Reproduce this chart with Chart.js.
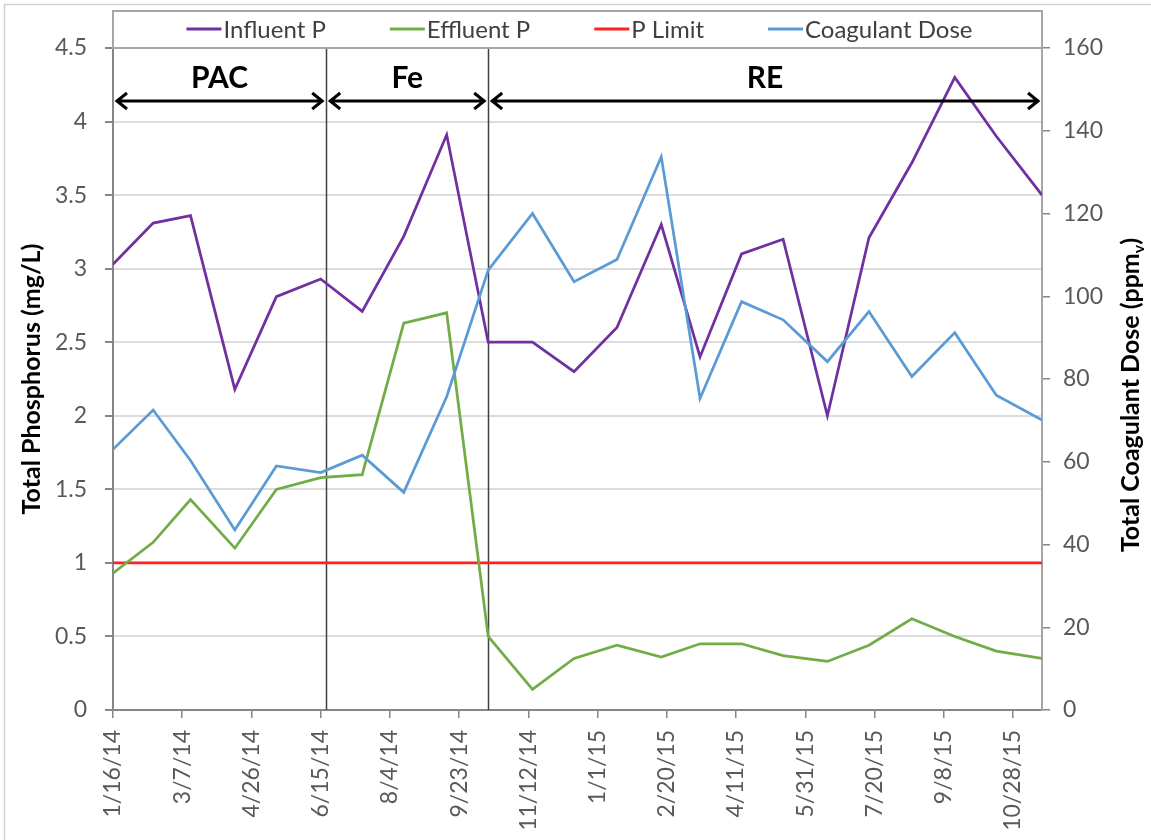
<!DOCTYPE html>
<html>
<head>
<meta charset="utf-8">
<title>Total Phosphorus and Coagulant Dose</title>
<script src="https://cdn.jsdelivr.net/npm/chart.js@4.4.0/dist/chart.umd.min.js"></script>
<style>
  html, body { margin: 0; padding: 0; background: #fff; }
</style>
</head>
<body>
<canvas id="grafico" width="1151" height="840"></canvas>
<script>
// sample dates (m/d/yy) and values
const sampleDates = ["1/16/14","2/14/14","3/13/14","4/14/14","5/14/14","6/15/14","7/15/14","8/14/14","9/14/14","10/14/14",
  "11/15/14","12/15/14","1/15/15","2/16/15","3/16/15","4/15/15","5/15/15","6/16/15","7/16/15","8/16/15","9/16/15","10/16/15","11/18/15"];
const influentP = [3.03, 3.31, 3.36, 2.18, 2.81, 2.93, 2.71, 3.22, 3.91, 2.50, 2.50, 2.30, 2.60, 3.30, 2.40, 3.10, 3.20, 2.00, 3.21, 3.72, 4.30, 3.90, 3.50];
const effluentP = [0.93, 1.14, 1.43, 1.10, 1.50, 1.58, 1.60, 2.63, 2.70, 0.50, 0.14, 0.35, 0.44, 0.36, 0.45, 0.45, 0.37, 0.33, 0.44, 0.62, 0.50, 0.40, 0.35];
const pLimit = [1, 1, 1, 1, 1, 1, 1, 1, 1, 1, 1, 1, 1, 1, 1, 1, 1, 1, 1, 1, 1, 1, 1];
const coagulantDose = [63.0, 72.5, 60.3, 43.5, 59.0, 57.4, 61.6, 52.6, 75.7, 106.3, 120.0, 103.5, 108.9, 133.7, 75.3, 98.7, 94.3, 84.2, 96.3, 80.6, 91.2, 76.1, 70.1];

const xTickLabels = ["1/16/14","3/7/14","4/26/14","6/15/14","8/4/14","9/23/14","11/12/14","1/1/15","2/20/15","4/11/15","5/31/15","7/20/15","9/8/15","10/28/15"];
const phases = ["PAC", "Fe", "RE"];
const phaseBounds = ["1/16/14", "6/19/14", "10/14/14", "11/18/15"];

const FONT = "Lato";
const BASE = Date.UTC(2014, 0, 16);

function toDay(str) {
  const [m, d, y] = str.split("/").map(Number);
  return (Date.UTC(2000 + y, m - 1, d) - BASE) / 86400000;
}

function puntos(valores) {
  return valores.map((v, i) => ({ x: toDay(sampleDates[i]), y: v }));
}

const fondo = {
  id: "fondo",
  beforeDraw(chart) {
    const { ctx, width, height } = chart;
    ctx.save();
    ctx.fillStyle = "#fff";
    ctx.fillRect(0, 0, width, height);
    ctx.strokeStyle = "#d0d0d0";
    ctx.lineWidth = 1.5;
    ctx.beginPath();
    ctx.moveTo(4.5, height);
    ctx.lineTo(4.5, 4.5);
    ctx.lineTo(width, 4.5);
    ctx.stroke();
    ctx.restore();
  }
};

const fases = {
  id: "fases",
  beforeDatasetsDraw(chart) {
    const { ctx, chartArea, scales: { x } } = chart;
    ctx.save();
    ctx.strokeStyle = "#404040";
    ctx.lineWidth = 1.5;
    phaseBounds.slice(1, -1).forEach(d => {
      const px = Math.round(x.getPixelForValue(toDay(d))) + 0.5;
      ctx.beginPath();
      ctx.moveTo(px, chartArea.top);
      ctx.lineTo(px, chartArea.bottom);
      ctx.stroke();
    });
    ctx.restore();
  },
  afterDatasetsDraw(chart) {
    const { ctx, scales: { x, y } } = chart;
    const ay = y.getPixelForValue(4.14);
    const ty = y.getPixelForValue(4.23);
    ctx.save();
    ctx.strokeStyle = "#000";
    ctx.fillStyle = "#000";
    ctx.lineWidth = 3;
    ctx.lineJoin = "miter";
    phases.forEach((name, i) => {
      const x0 = x.getPixelForValue(toDay(phaseBounds[i])) + 3;
      const x1 = x.getPixelForValue(toDay(phaseBounds[i + 1])) - 3;
      ctx.beginPath();
      ctx.moveTo(x0, ay);
      ctx.lineTo(x1, ay);
      ctx.moveTo(x0 + 11, ay - 8);
      ctx.lineTo(x0 + 1, ay);
      ctx.lineTo(x0 + 11, ay + 8);
      ctx.moveTo(x1 - 11, ay - 8);
      ctx.lineTo(x1 - 1, ay);
      ctx.lineTo(x1 - 11, ay + 8);
      ctx.stroke();
      ctx.font = `bold 30px ${FONT}`;
      ctx.textAlign = "center";
      ctx.textBaseline = "alphabetic";
      ctx.fillText(name, (x0 + x1) / 2, ty);
    });
    ctx.restore();
  }
};

// legend in a box on top of the plot, plus the right axis title (reads bottom to top)
const leyenda = {
  id: "leyenda",
  afterDraw(chart) {
    const { ctx, chartArea } = chart;
    ctx.save();
    ctx.strokeStyle = "#a6a6a6";
    ctx.lineWidth = 2;
    ctx.strokeRect(chartArea.left, 11, chartArea.right - chartArea.left, chartArea.top - 11);

    ctx.font = `24px ${FONT}`;
    const items = chart.data.datasets.map(ds => ({ text: ds.label, color: ds.borderColor, w: ctx.measureText(ds.label).width }));
    const markW = 35, gap = 64;
    const total = items.reduce((s, it) => s + markW + 2 + it.w, 0) + gap * (items.length - 1);
    let lx = (chartArea.left + chartArea.right) / 2 - total / 2 + 2;
    const ly = 29;
    items.forEach(it => {
      ctx.strokeStyle = it.color;
      ctx.lineWidth = 3;
      ctx.beginPath();
      ctx.moveTo(lx, ly);
      ctx.lineTo(lx + markW, ly);
      ctx.stroke();
      ctx.fillStyle = "#404040";
      ctx.textAlign = "left";
      ctx.textBaseline = "middle";
      ctx.fillText(it.text, lx + markW + 2, ly + 1);
      lx += markW + 2 + it.w + gap;
    });

    // right title
    const main = "Total Coagulant Dose (ppm", sub = "v", tail = ")";
    ctx.fillStyle = "#000";
    ctx.textBaseline = "alphabetic";
    ctx.font = `bold 25px ${FONT}`;
    const w1 = ctx.measureText(main).width, w3 = ctx.measureText(tail).width;
    ctx.font = `bold 16px ${FONT}`;
    const w2 = ctx.measureText(sub).width;
    const tw = w1 + w2 + w3;
    ctx.translate(1139, (chartArea.top + chartArea.bottom) / 2 + 16);
    ctx.rotate(-Math.PI / 2);
    ctx.textAlign = "left";
    ctx.font = `bold 25px ${FONT}`;
    ctx.fillText(main, -tw / 2, 0);
    ctx.font = `bold 16px ${FONT}`;
    ctx.fillText(sub, -tw / 2 + w1, 5);
    ctx.font = `bold 25px ${FONT}`;
    ctx.fillText(tail, -tw / 2 + w1 + w2, 0);
    ctx.restore();
  }
};

const grafico = new Chart(document.getElementById("grafico").getContext("2d"), {
  type: "line",
  data: {
    datasets: [
      { label: "Influent P", data: puntos(influentP), yAxisID: "y", borderColor: "#7030a0", backgroundColor: "#7030a0", borderWidth: 2.75, pointRadius: 0, tension: 0, order: 2 },
      { label: "Effluent P", data: puntos(effluentP), yAxisID: "y", borderColor: "#70ad47", backgroundColor: "#70ad47", borderWidth: 2.75, pointRadius: 0, tension: 0, order: 3 },
      { label: "P Limit", data: puntos(pLimit), yAxisID: "y", borderColor: "#ff2020", backgroundColor: "#ff2020", borderWidth: 2.75, pointRadius: 0, tension: 0, order: 4 },
      { label: "Coagulant Dose", data: puntos(coagulantDose), yAxisID: "y1", borderColor: "#5b9bd5", backgroundColor: "#5b9bd5", borderWidth: 2.75, pointRadius: 0, tension: 0, order: 1 }
    ]
  },
  options: {
    responsive: false,
    animation: false,
    layout: { padding: { top: 48, left: 0, right: 0, bottom: 0 } },
    plugins: {
      legend: { display: false },
      tooltip: { enabled: false }
    },
    scales: {
      x: {
        type: "linear",
        min: 0,
        max: toDay(phaseBounds[phaseBounds.length - 1]),
        afterBuildTicks: scale => { scale.ticks = xTickLabels.map(l => ({ value: toDay(l) })); },
        afterFit: scale => { scale.height = 130; },
        ticks: {
          autoSkip: false,
          minRotation: 90,
          maxRotation: 90,
          padding: 12,
          color: "#595959",
          font: { family: FONT, size: 23 },
          callback: (v, i) => xTickLabels[i]
        },
        grid: { drawOnChartArea: false, tickLength: 8, color: "#868686", lineWidth: 1.5 },
        border: { color: "#868686", width: 2 }
      },
      y: {
        position: "left",
        min: 0,
        max: 4.5,
        afterFit: scale => { scale.width = 113; },
        ticks: { stepSize: 0.5, padding: 18, color: "#595959", font: { family: FONT, size: 23 }, callback: v => String(v) },
        grid: { color: "#dcdcdc", lineWidth: 2, tickLength: 8, tickColor: "#868686" },
        border: { color: "#868686", width: 2 },
        title: {
          display: true,
          text: "Total Phosphorus (mg/L)",
          color: "#000",
          font: { family: FONT, size: 25, weight: "bold" },
          padding: { top: 17, bottom: 0 }
        }
      },
      y1: {
        position: "right",
        min: 0,
        max: 160,
        afterFit: scale => { scale.width = 109; },
        ticks: { stepSize: 20, padding: 13, color: "#595959", font: { family: FONT, size: 23 } },
        grid: { drawOnChartArea: false, tickLength: 8, color: "#868686", lineWidth: 1.5 },
        border: { color: "#a6a6a6", width: 2 }
      }
    }
  },
  plugins: [fondo, fases, leyenda]
});
</script>
</body>
</html>
